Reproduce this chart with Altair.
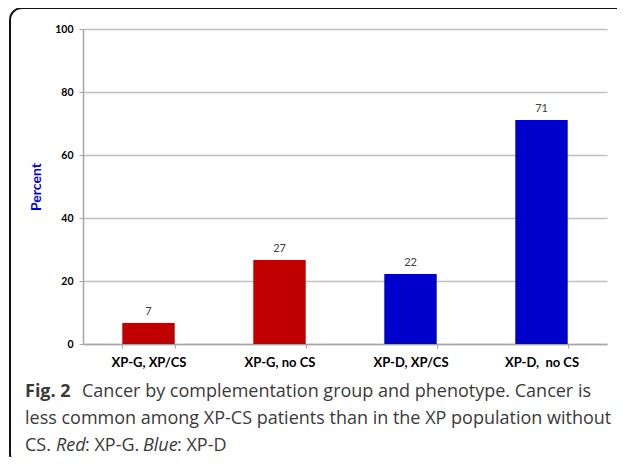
import altair as alt
import pandas as pd

categories = ["XP-G, XP/CS", "XP-G, no CS", "XP-D, XP/CS", "XP-D,\u00a0 no CS"]
values = [6.7, 26.7, 22.2, 71.1]
bar_labels = ["7", "27", "22", "71"]
bar_colors = ["#C00000", "#C00000", "#0000CC", "#0000CC"]
y_ticks = [0, 20, 40, 60, 80, 100]

caption_line1_bold = "Fig. 2"
caption_line1 = "Cancer by complementation group and phenotype. Cancer is"
caption_line2 = "less common among XP-CS patients than in the XP population without"
caption_line3 = ["CS.", "Red", ":\u00a0XP-G.", "Blue", ":\u00a0XP-D"]

df = pd.DataFrame({"cat": categories, "val": values, "lab": bar_labels, "col": bar_colors})
one = pd.DataFrame({"k": [0]})

W, H = 524, 315

x_enc = alt.X("cat:N", sort=categories,
              scale=alt.Scale(paddingInner=0.6, paddingOuter=0.3),
              axis=alt.Axis(title=None, labelAngle=0, tickBand="extent", tickSize=4,
                            tickColor="#A6A6A6", domainColor="#A6A6A6", domainWidth=1.5,
                            labelFont="Lato", labelFontSize=13, labelFontWeight="bold",
                            labelColor="black", labelPadding=8, grid=False))
y_enc = alt.Y("val:Q", scale=alt.Scale(domain=[0, 100], nice=False),
              axis=alt.Axis(values=y_ticks, title="Percent", titleColor="#0000EE",
                            titleFont="Lato", titleFontSize=14, titleFontWeight="bold",
                            titlePadding=11, labelFont="Lato", labelFontSize=10.5,
                            labelFontWeight="bold", labelColor="black", labelPadding=6,
                            tickSize=4, tickColor="#A6A6A6", domainColor="#A6A6A6",
                            domainWidth=1.5, gridColor="#BFBFBF", gridWidth=1.5))

bars = alt.Chart(df).mark_bar().encode(x=x_enc, y=y_enc, color=alt.Color("col:N", scale=None))
labels = alt.Chart(df).mark_text(dy=-8, baseline="alphabetic", font="Lato", fontSize=11,
                                 color="#404040").encode(x=alt.X("cat:N", sort=categories),
                                                         y="val:Q", text="lab:N")

box = alt.Chart(one).mark_rect(fill="transparent", stroke="#111111", strokeWidth=2,
                               cornerRadius=12).encode(
    x=alt.value(-73), x2=alt.value(600), y=alt.value(-21), y2=alt.value(437))

cap_font = dict(font="Open Sans", fontSize=18, color="#3a3a3a", align="left",
                baseline="alphabetic")

def cap(text, px, py, **kw):
    opts = dict(cap_font)
    opts.update(kw)
    return alt.Chart(one).mark_text(text=text, **opts).encode(
        x=alt.value(px), y=alt.value(py))

cap_layers = [
    cap(caption_line1_bold, -58, 368, fontWeight="bold"),
    cap(caption_line1, -1, 368),
    cap(caption_line2, -58, 395),
    cap(caption_line3[0], -58, 422),
    cap(caption_line3[1], -27, 422, fontStyle="italic"),
    cap(caption_line3[2], 2, 422),
    cap(caption_line3[3], 60, 422, fontStyle="italic"),
    cap(caption_line3[4], 94, 422),
]

chart = alt.layer(bars, labels, box, *cap_layers).properties(
    width=W, height=H,
    autosize=alt.AutoSizeParams(type="none"),
    padding={"left": 75, "top": 21, "right": 10, "bottom": 113},
    background="white",
).configure_view(stroke=None)

chart.save("out.html", embed_options={"renderer": "svg", "actions": False})
